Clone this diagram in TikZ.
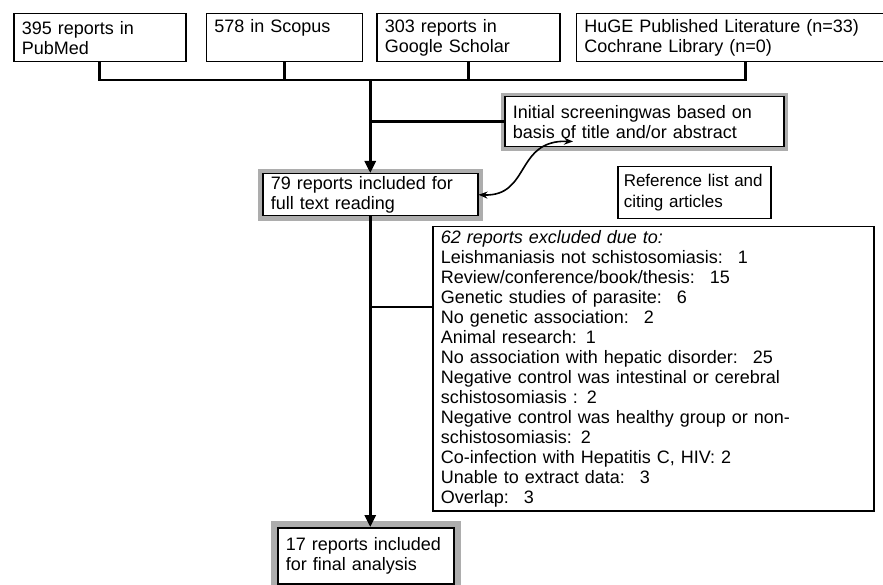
\documentclass[tikz,border=0pt]{standalone}
\usepackage{fontspec}
\setmainfont{Liberation Sans}
\usetikzlibrary{arrows.meta,positioning}
\tikzstyle{box}=[rectangle,draw=black,line width=1.5pt,fill=white,inner xsep=8pt,inner ysep=0pt,align=left,anchor=north west,font=\fontsize{18}{20}\selectfont]
\tikzset{halo/.style={preaction={draw=black!32,line width=#1}},halo/.default=10pt}
\tikzstyle{link}=[line width=2.8pt]
\tikzstyle{flow}=[line width=2.8pt,-{Triangle[width=11pt,length=12pt]}]
\tikzstyle{back}=[line width=1.6pt,{Stealth[length=9pt,width=7pt]}-{Stealth[length=9pt,width=7pt]}]

\begin{document}
\begin{tikzpicture}[x=1pt,y=-1pt]
    \useasboundingbox (0,0) rectangle (883,585);

    % Quellen
    \node[box,text width=156pt,minimum height=48pt] (pub) at (13,13) {395 reports in\\PubMed};
    \node[box,text width=140pt,minimum height=48pt,right=19pt of pub] (scopus) {578 in Scopus\\\phantom{Pg}};
    \node[box,text width=167pt,minimum height=48pt,right=13pt of scopus] (google) {303 reports in\\Google Scholar};
    \node[box,text width=292pt,minimum height=48pt,right=15pt of google] (huge) {HuGE Published Literature (n=33)\\Cochrane Library (n=0)};

    % Auswahl
    \node[box,halo=8pt,text width=263pt,minimum height=50pt] (screen) at (504,96) {Initial screeningwas based on\\basis of title and/or abstract};
    \node[box,halo,text width=199pt,minimum height=42pt] (incl) at (262,173) {79 reports included for\\full text reading};
    \node[box,font=\fontsize{17}{21}\selectfont,inner xsep=6pt,text width=141pt,minimum height=52pt] (refl) at (617,166) {Reference list and\\citing articles};
    \node[box,text width=425pt,minimum height=284pt] (excl) at (432,226) {\textit{62 reports excluded due to:}\\
        Leishmaniasis not schistosomiasis: ~1\\
        Review/conference/book/thesis: ~15\\
        Genetic studies of parasite: ~6\\
        No genetic association: ~2\\
        Animal research: 1\\
        No association with hepatic disorder: ~25\\
        Negative control was intestinal or cerebral\\
        schistosomiasis : 2\\
        Negative control was healthy group or non-\\
        schistosomiasis: 2\\
        Co-infection with Hepatitis C, HIV: 2\\
        Unable to extract data: ~3\\
        Overlap: ~3};
    \node[box,halo=14pt,text width=160pt,minimum height=56pt] (final) at (277,527) {17 reports included\\for final analysis};

    % Hilfspunkte
    \coordinate (bar) at (0,80);
    \coordinate (exclIn) at ([yshift=-81pt]excl.north west);
    \coordinate (screenIn) at ([xshift=69pt,yshift=6pt]screen.south west);

    % Verbindungen
    \draw[link] (pub.south) -- (pub.south |- bar) -- ([xshift=15pt]huge.south |- bar) -- ([xshift=15pt]huge.south);
    \draw[link] (scopus.south) -- (scopus.south |- bar);
    \draw[link] (google.south) -- (google.south |- bar);
    \draw[flow] (incl.north |- bar) -- (incl.north);
    \draw[link] (incl.north |- screen.west) -- (screen.west);
    \draw[flow] (incl.south) -- (incl.south |- final.north);
    \draw[link] (incl.south |- exclIn) -- (exclIn);
    \draw[back] (incl.east) .. controls +(52,2) and +(-58,-2) .. (screenIn);

\end{tikzpicture}
\end{document}
